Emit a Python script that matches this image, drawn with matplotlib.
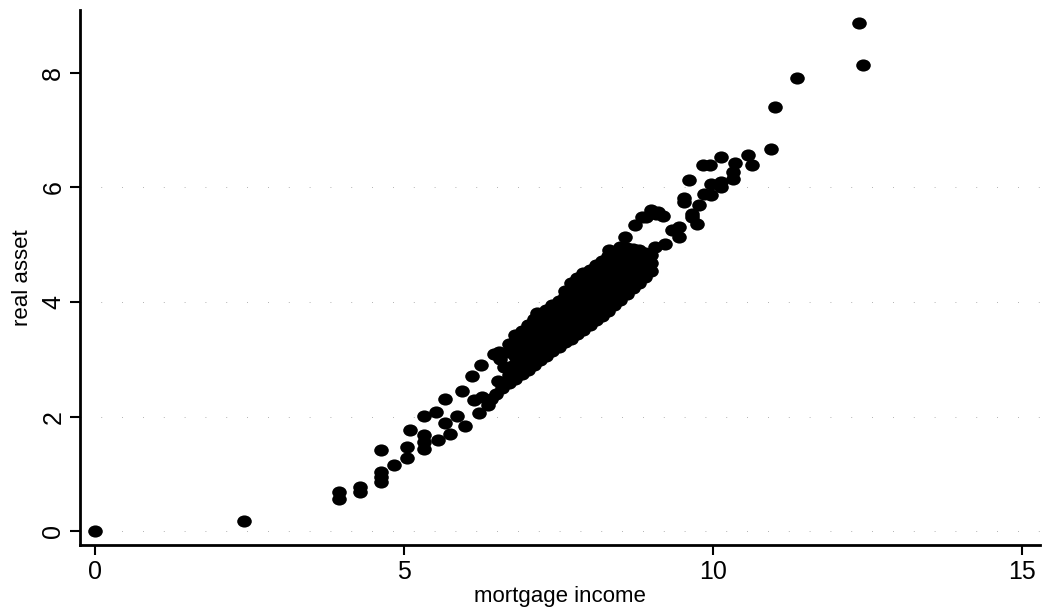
import matplotlib
matplotlib.use("Agg")
import matplotlib.pyplot as plt
from matplotlib.path import Path
from matplotlib.transforms import Affine2D

# scattered points outside the dense band (mortgage income, real asset)
pts_x = [0.0, 2.42, 3.95, 3.95, 4.29, 4.29, 4.63, 4.63, 4.63, 4.63, 4.83,
         5.04, 5.04, 5.09, 5.33, 5.33, 5.33, 5.33, 5.51, 5.55, 5.66, 5.66,
         5.75, 5.86, 5.94, 5.99, 6.10, 6.13, 6.22, 6.25, 6.26, 6.35, 6.40, 6.45,
         6.53, 6.85, 7.02, 7.15, 6.48, 6.52, 6.58, 6.62, 6.55,
         8.31, 8.58, 8.74, 8.84, 8.92, 9.00, 9.08, 9.11, 9.19, 8.95,
         9.06, 8.95, 9.22, 9.33, 9.44, 9.44, 9.65, 9.73, 9.65, 9.53, 9.53,
         9.61, 9.77, 9.85, 9.96, 9.97, 10.13, 10.13, 9.84, 9.95, 10.12,
         10.32, 10.32, 10.35, 10.62, 10.56, 10.93, 11.00, 11.35, 12.42, 12.35]
pts_y = [0.0, 0.18, 0.69, 0.57, 0.77, 0.69, 1.41, 1.04, 0.95, 0.86, 1.15,
         1.28, 1.47, 1.77, 1.44, 1.56, 1.68, 2.01, 2.08, 1.60, 2.30, 1.89,
         1.70, 2.02, 2.45, 1.83, 2.71, 2.29, 2.06, 2.90, 2.34, 2.20, 2.30, 3.09,
         3.13, 3.39, 3.60, 3.80, 2.40, 2.62, 2.50, 2.86, 3.00,
         4.90, 5.14, 5.34, 5.49, 5.49, 5.60, 5.54, 5.57, 5.50, 4.79,
         4.96, 4.79, 5.02, 5.25, 5.31, 5.14, 5.53, 5.36, 5.49, 5.82, 5.75,
         6.13, 5.70, 5.89, 5.86, 6.06, 6.10, 6.00, 6.40, 6.40, 6.53,
         6.27, 6.14, 6.42, 6.39, 6.57, 6.67, 7.40, 7.91, 8.13, 8.87]

# dense band, read column by column
band_cols = {
    6.70: [2.58, 2.72, 2.86, 3.12, 3.26],
    6.80: [2.66, 2.78, 2.92, 3.06, 3.20, 3.32, 3.42],
    6.90: [2.74, 2.86, 3.00, 3.14, 3.26, 3.38, 3.50],
    7.00: [2.82, 2.94, 3.08, 3.22, 3.36, 3.48, 3.60],
    7.10: [2.90, 3.02, 3.16, 3.30, 3.44, 3.58, 3.70],
    7.20: [2.98, 3.10, 3.24, 3.38, 3.52, 3.66, 3.78],
    7.30: [3.06, 3.18, 3.32, 3.46, 3.60, 3.74, 3.86],
    7.40: [3.14, 3.26, 3.40, 3.54, 3.68, 3.82, 3.94],
    7.50: [3.22, 3.34, 3.48, 3.62, 3.76, 3.90, 4.02],
    7.60: [3.30, 3.42, 3.56, 3.70, 3.84, 3.98, 4.10, 4.20],
    7.70: [3.36, 3.50, 3.64, 3.78, 3.92, 4.06, 4.20, 4.34],
    7.80: [3.44, 3.58, 3.72, 3.86, 4.00, 4.14, 4.28, 4.42],
    7.90: [3.52, 3.66, 3.80, 3.94, 4.08, 4.22, 4.36, 4.50],
    8.00: [3.60, 3.74, 3.88, 4.02, 4.16, 4.30, 4.44, 4.56],
    8.10: [3.68, 3.82, 3.96, 4.10, 4.24, 4.38, 4.52, 4.64],
    8.20: [3.76, 3.90, 4.04, 4.18, 4.32, 4.46, 4.60, 4.72],
    8.30: [3.84, 3.98, 4.12, 4.26, 4.40, 4.54, 4.68, 4.80],
    8.40: [3.94, 4.08, 4.22, 4.36, 4.50, 4.64, 4.76, 4.88],
    8.50: [4.04, 4.18, 4.32, 4.46, 4.60, 4.74, 4.86, 4.96],
    8.60: [4.14, 4.28, 4.42, 4.56, 4.70, 4.82, 4.94],
    8.70: [4.24, 4.38, 4.52, 4.66, 4.80, 4.92],
    8.80: [4.34, 4.48, 4.62, 4.76, 4.90],
    8.90: [4.44, 4.58, 4.72, 4.86],
    9.00: [4.54, 4.68, 4.82],
}

xticks = [0, 5, 10, 15]
yticks = [0, 2, 4, 6, 8]
grid_y = [0, 2, 4, 6]

plt.rcParams['font.family'] = ['Liberation Sans', 'DejaVu Sans']

fig = plt.figure(figsize=(10.52, 6.11), dpi=100)
ax = fig.add_axes([0.076, 0.108, 0.913, 0.876])

for g in grid_y:
    ax.axhline(g, color='#999999', lw=0.6, ls=(0, (1, 24)), zorder=0)

ell = Path.unit_circle().transformed(Affine2D().scale(1.2, 1.0))
bx, by = [], []
for cx, ys in band_cols.items():
    for yy in ys:
        bx.append(cx)
        by.append(yy)
ax.plot(bx, by, ls='none', marker=ell, ms=10.5, color='black', mew=0)
ax.plot(pts_x, pts_y, ls='none', marker=ell, ms=10.5, color='black', mew=0)

ax.set_xlim(-0.24, 15.29)
ax.set_ylim(-0.24, 9.1)
ax.set_xticks(xticks)
ax.set_yticks(yticks)
for s in ['top', 'right']:
    ax.spines[s].set_visible(False)
for s in ['left', 'bottom']:
    ax.spines[s].set_linewidth(2)
ax.tick_params(width=1.5, length=7, labelsize=18)
for lab in ax.get_yticklabels():
    lab.set_rotation(90)
    lab.set_va('center')
ax.set_xlabel('mortgage income', fontsize=16, labelpad=2)
ax.set_ylabel('real asset', fontsize=16, labelpad=6)

fig.savefig('out.png', dpi=100)
